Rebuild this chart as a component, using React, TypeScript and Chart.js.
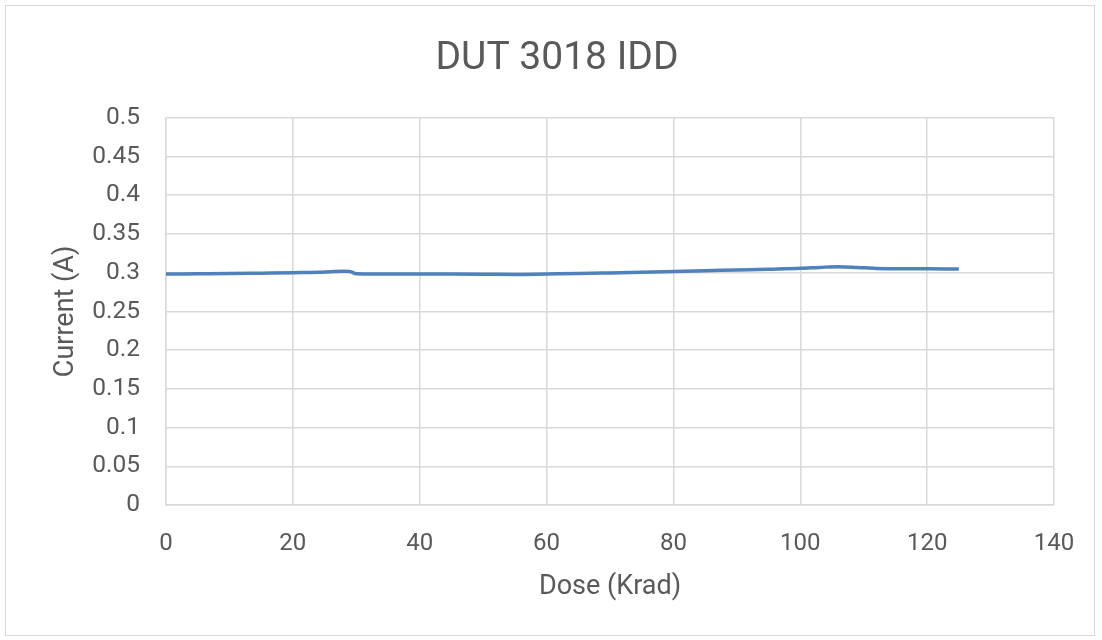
import React, { useEffect, useRef } from "react";
import { Chart, registerables } from "chart.js";

Chart.register(...registerables);

const chartTitle = "DUT 3018 IDD";
const xAxisTitle = "Dose (Krad)";
const yAxisTitle = "Current (A)";

const doseKrad = [0, 5, 10, 15, 20, 24, 26, 28, 29, 30, 33, 40, 45, 50, 55, 60, 65, 70, 75, 80, 85, 90, 95, 100, 103, 106, 109, 112, 115, 120, 125];
const currentA = [0.2982, 0.2985, 0.2988, 0.2994, 0.3, 0.3004, 0.3012, 0.3018, 0.3016, 0.2986, 0.2983, 0.2982, 0.2982, 0.2981, 0.2978, 0.2983, 0.2988, 0.2996, 0.3005, 0.3015, 0.3025, 0.3035, 0.3045, 0.3056, 0.3068, 0.3078, 0.3068, 0.3055, 0.305, 0.305, 0.3046];

const xMin = 0;
const xMax = 140;
const xStep = 20;
const yMin = 0;
const yMax = 0.5;
const yStep = 0.05;

const FONT = "Roboto, 'Open Sans', sans-serif";
const TEXT = "#595959";
const GRID = "#D9D9D9";

export default function App() {
  const ref = useRef<HTMLCanvasElement | null>(null);

  useEffect(() => {
    if (!ref.current) return;
    const chart = new Chart(ref.current, {
      type: "line",
      data: {
        datasets: [
          {
            label: "IDD",
            data: doseKrad.map((d, i) => ({ x: d, y: currentA[i] })),
            borderColor: "#4F81BD",
            backgroundColor: "#4F81BD",
            borderWidth: 3.5,
            pointRadius: 0,
            cubicInterpolationMode: "monotone",
            fill: false,
          },
        ],
      },
      options: {
        responsive: false,
        animation: false,
        layout: { padding: { left: 60, right: 48, top: 18, bottom: 0 } },
        plugins: {
          legend: { display: false },
          tooltip: { enabled: false },
          title: {
            display: true,
            text: chartTitle,
            color: TEXT,
            font: { family: FONT, size: 39, weight: "normal" },
            padding: { top: 18, bottom: 35 },
          },
        },
        scales: {
          x: {
            type: "linear",
            min: xMin,
            max: xMax,
            ticks: {
              stepSize: xStep,
              color: TEXT,
              font: { family: FONT, size: 24 },
              padding: 25,
              maxRotation: 0,
            },
            grid: { color: GRID, lineWidth: 1.5, drawTicks: false },
            border: { color: GRID, width: 1.5 },
            title: {
              display: true,
              text: xAxisTitle,
              color: TEXT,
              font: { family: FONT, size: 27 },
              padding: { top: 0, bottom: 37 },
            },
            afterFit: (scale: any) => {
              scale.height = 135;
            },
          },
          y: {
            type: "linear",
            min: yMin,
            max: yMax,
            ticks: {
              stepSize: yStep,
              color: TEXT,
              font: { family: FONT, size: 24.5 },
              padding: 26,
              callback: (v: any) => String(Number(Number(v).toFixed(2))),
            },
            grid: { color: GRID, lineWidth: 1.5, drawTicks: false },
            border: { color: GRID, width: 1.5 },
            title: {
              display: true,
              text: yAxisTitle,
              color: TEXT,
              font: { family: FONT, size: 27 },
              padding: { top: -10, bottom: 0 },
            },
            afterFit: (scale: any) => {
              scale.width = 106;
            },
          },
        },
      },
    });
    return () => chart.destroy();
  }, []);

  return (
    <div style={{ position: "fixed", left: 0, top: 0, width: 1102, height: 640, background: "#fff" }}>
      <div
        style={{
          position: "absolute",
          left: 5,
          top: 5,
          width: 1090,
          height: 631,
          border: "1px solid #D9D9D9",
          boxSizing: "border-box",
        }}
      />
      <canvas ref={ref} width={1102} height={640} style={{ position: "absolute", left: 0, top: 0 }} />
    </div>
  );
}
